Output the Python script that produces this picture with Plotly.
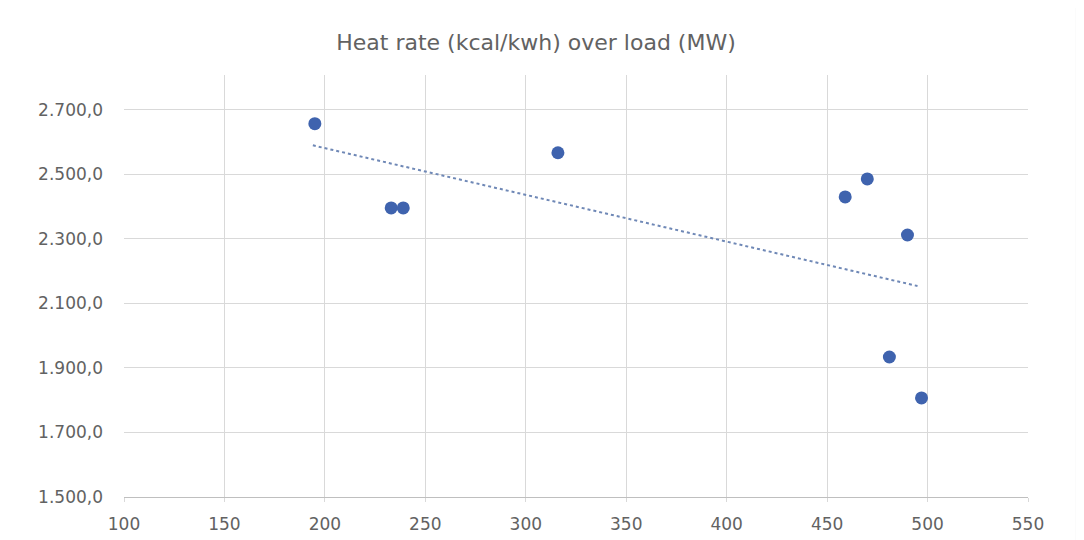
import plotly.graph_objects as go

# Data
load_mw = [195, 233, 239, 316, 459, 470, 490, 481, 497]
heat_rate = [2657, 2396, 2396, 2567, 2430, 2486, 2312, 1934, 1807]

trend_x = [194, 495]
trend_y = [2590, 2154]

x_ticks = [100, 150, 200, 250, 300, 350, 400, 450, 500, 550]
y_ticks = [1500, 1700, 1900, 2100, 2300, 2500, 2700]

title_text = "Heat rate (kcal/kwh) over load (MW)"

fig = go.Figure()
fig.add_trace(go.Scatter(
    x=trend_x, y=trend_y, mode="lines",
    line=dict(color="#6F88B6", width=2, dash="dot"),
    hoverinfo="skip", showlegend=False,
))
fig.add_trace(go.Scatter(
    x=load_mw, y=heat_rate, mode="markers",
    marker=dict(color="#3F63AE", size=13, line=dict(width=0)),
    showlegend=False,
))

font_family = "DejaVu Sans, Verdana, sans-serif"
fig.update_layout(
    width=1076, height=532,
    paper_bgcolor="white", plot_bgcolor="white",
    separators=",.",
    margin=dict(l=116, r=56, t=67, b=43, autoexpand=False),
    title=dict(text=title_text, x=0.4907, xanchor="center", y=0.936, yanchor="middle",
               font=dict(family=font_family, size=22, color="#626262")),
    font=dict(family=font_family, color="#626262"),
)
fig.update_xaxes(
    range=[100, 550], tickvals=x_ticks, ticktext=[str(v) for v in x_ticks],
    showgrid=True, gridcolor="#D9D9D9", gridwidth=1,
    showline=True, linecolor="#BFBFBF", linewidth=1,
    ticks="outside", ticklen=4, tickcolor="#D9D9D9",
    tickfont=dict(size=17, color="#626262"), ticklabelstandoff=8,
    zeroline=False, automargin=False,
)
fig.update_yaxes(
    range=[1500, 2808], tickvals=y_ticks, tickformat=",.1f",
    showgrid=True, gridcolor="#D9D9D9", gridwidth=1,
    showline=False, ticks="",
    tickfont=dict(size=17, color="#626262"), ticklabelstandoff=20,
    zeroline=False, automargin=False,
)
# faint chart border on the right edge
fig.add_shape(type="line", xref="paper", yref="paper", x0=1.054, x1=1.054, y0=-0.2, y1=1.3,
              line=dict(color="#E6E6E6", width=2))

fig.write_html("out.html")
